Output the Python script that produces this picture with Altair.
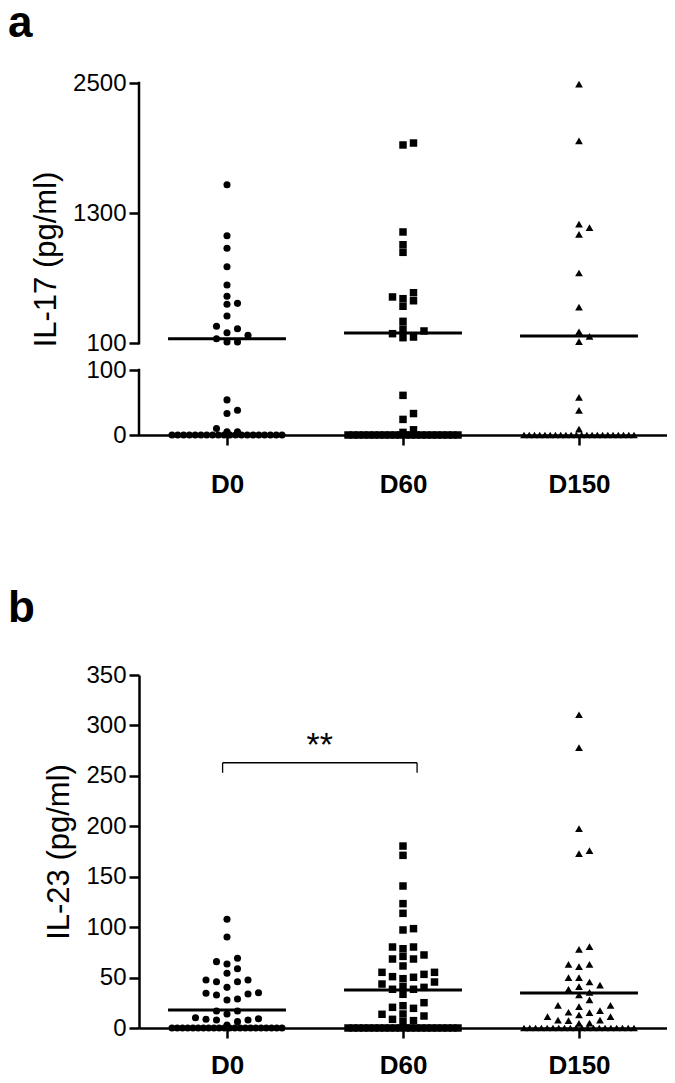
import json
import altair as alt
import numpy as np
import pandas as pd

# ---------------- data ----------------
groups = ["D0", "D60", "D150"]
group_shapes = ["circle", "square", "triangle-up"]

# Panel a : IL-17 (pg/ml), broken axis 0-100 | 100-2500
il17_d0 = [1561, 1090, 974, 804, 635, 531, 466, 457, 349, 254, 232, 195, 171,
           140, 109, 109, 54, 38, 33, 10, 5, 5]
il17_d60 = [1946, 1928, 1125, 1007, 937, 564, 525, 509, 490, 439, 300, 229,
            211, 186, 155, 149, 61, 33, 24, 8, 4]
il17_d150 = [2490, 1965, 1198, 1165, 1103, 746, 432, 204, 162, 112, 58, 38, 9]
il17_zero_counts = [20, 22, 22]
il17_centre_lines = [140, 192, 165]
il17_ticks = [0, 100, 100.001, 1300, 2500]
il17_break_domain = [0, 100, 100.001, 2500]
il17_seg_lo = [0, 100.001]
il17_seg_hi = [100, 2500]

# Panel b : IL-23 (pg/ml)
il23_d0 = [107.8, 90.2, 69.1, 63.4, 65.8, 54.2, 58.8, 47.6, 45.9, 40.3, 45.9,
           47.6, 33.7, 32.7, 27.8, 28.8, 34.4, 35.0, 16.9, 13.9, 16.9, 10.2,
           8.6, 7.9, 6.3, 7.9, 9.2, 3.0]
il23_d60 = [180.4, 171.2, 140.8, 123.3, 113.7, 98.5, 97.2, 80.3, 78.6, 80.3,
            71.0, 68.4, 72.4, 68.4, 61.5, 55.2, 53.2, 50.3, 45.6, 48.9, 50.9,
            55.2, 43.6, 40.3, 38.4, 33.4, 38.4, 41.0, 22.1, 25.1, 19.5, 20.5,
            13.9, 11.9, 13.6, 8.6, 6.3, 7.3]
il23_d150 = [310.6, 277.9, 197.6, 175.8, 172.8, 80.6, 78.0, 63.1, 60.8, 63.1,
             49.9, 49.9, 45.6, 41.0, 38.4, 35.4, 42.6, 32.7, 27.8, 22.5, 22.5,
             21.1, 17.2, 15.2, 11.2, 11.2, 12.9, 15.6, 7.9, 7.3, 4.6, 4.9, 7.9]
il23_zero_counts = [22, 22, 20]
il23_centre_lines = [17.8, 37.7, 34.7]
il23_ticks = [0, 50, 100, 150, 200, 250, 300, 350]

bracket_x = [-0.025, 1.08]
bracket_y = [253, 263]
sig_text = "**"
sig_x = [0.527]
sig_y = [270]

# ---------------- layout / style ----------------
FONT = "Liberation Sans"
W = 528
XDOM = [-0.5, 2.5]
UNIT_PX = W / (XDOM[1] - XDOM[0])
HA = 352
RANGE_A = [HA, HA - 65, HA - 92, 0]
HB = 353
BDOM = [0, 350]
HALF_LINE = 0.335
SLOT_PX = 10.5
THR_PX = 7.5
ROW_PX = 110
SIZES = {"circle": 50, "square": 56, "triangle-up": 60}


def swarm(values, to_px):
    vals = np.asarray(values, dtype=float)
    off = np.zeros(len(vals))
    order = [0]
    for k in range(1, 15):
        order += [k, -k]
    placed = []
    for i in np.argsort(vals, kind="stable"):
        if vals[i] == 0:
            continue
        y = to_px(vals[i])
        for s in order:
            if all(not (ps == s and abs(py - y) < THR_PX) for ps, py in placed):
                placed.append((s, y))
                off[i] = s * SLOT_PX
                break
    zi = np.where(vals == 0)[0]
    if len(zi) > 1:
        off[zi] = np.linspace(-ROW_PX / 2, ROW_PX / 2, len(zi))
    return off / UNIT_PX


def build(series, zero_counts, to_px):
    rows = []
    for gi, (g, vals, nz) in enumerate(zip(groups, series, zero_counts)):
        allv = list(vals) + [0.0] * nz
        offs = swarm(allv, to_px)
        for v, o in zip(allv, offs):
            rows.append({"group": g, "value": v, "x": gi + o})
    return pd.DataFrame(rows)


to_px_a = lambda v: float(np.interp(v, il17_break_domain, RANGE_A))
to_px_b = lambda v: HB - v * HB / (BDOM[1] - BDOM[0])

df_a = build([il17_d0, il17_d60, il17_d150], il17_zero_counts, to_px_a)
df_b = build([il23_d0, il23_d60, il23_d150], il23_zero_counts, to_px_b)

label_expr = json.dumps(groups) + "[datum.value]"
x_scale = alt.Scale(domain=XDOM, nice=False, zero=False)


def x_axis(pad):
    return alt.Axis(values=[0, 1, 2], labelExpr=label_expr, tickSize=10,
                    labelPadding=pad, labelFontSize=26, labelFontWeight="bold",
                    labelFlush=False, title=None, grid=False)


def panel(df, centre, y_scale, y_axis, xpad, extra=()):
    X = lambda f: alt.X(f, type="quantitative", scale=x_scale, axis=x_axis(xpad))
    Y = lambda f: alt.Y(f, type="quantitative", scale=y_scale, axis=y_axis)
    layers = []
    cdf = pd.DataFrame({"lo": [i - HALF_LINE for i in range(3)],
                        "hi": [i + HALF_LINE for i in range(3)],
                        "value": centre})
    layers.append(alt.Chart(cdf).mark_rule(color="black", strokeWidth=3).encode(
        x=X("lo"), x2="hi", y=Y("value")))
    for g, s in zip(groups, group_shapes):
        layers.append(alt.Chart(df[df.group == g]).mark_point(
            shape=s, size=SIZES[s], filled=True, color="black", opacity=1,
            strokeWidth=0).encode(x=X("x"), y=Y("value")))
    for mk in extra:
        layers.append(mk(X, Y))
    return alt.layer(*layers)


# ----- panel a -----
ya_scale = alt.Scale(domain=il17_break_domain, range=RANGE_A, zero=False, nice=False)
ya_axis = alt.Axis(values=il17_ticks, format="d", domain=False, tickSize=10,
                   labelPadding=3, labelFontSize=24, labelOverlap=False,
                   title="IL-17 (pg/ml)", titleFontSize=31, titleFontWeight="normal",
                   titlePadding=10, grid=False)
seg_df = pd.DataFrame({"lo": il17_seg_lo, "hi": il17_seg_hi})


def y_segments(X, Y):
    return alt.Chart(seg_df).mark_rule(color="black", strokeWidth=2.5,
                                       strokeCap="square").encode(
        x=alt.X(datum=XDOM[0], type="quantitative", scale=x_scale),
        y=Y("lo"), y2="hi")


chart_a = panel(df_a, il17_centre_lines, ya_scale, ya_axis, 26,
                extra=[y_segments]).properties(
    width=W, height=HA,
    title=alt.TitleParams("a", anchor="start", frame="group", fontSize=44,
                          fontWeight="bold", font=FONT, color="black",
                          dx=-131, offset=25))

# ----- panel b -----
yb_scale = alt.Scale(domain=BDOM, zero=False, nice=False)
yb_axis = alt.Axis(values=il23_ticks, tickSize=10, labelPadding=3, labelFontSize=24,
                   title="IL-23 (pg/ml)", titleFontSize=31, titleFontWeight="normal",
                   titlePadding=10, grid=False)
br_h = pd.DataFrame({"x": [bracket_x[0]], "x2": [bracket_x[1]], "y": [bracket_y[1]]})
br_v = pd.DataFrame({"x": bracket_x, "y": [bracket_y[0]] * 2, "y2": [bracket_y[1]] * 2})
sig_df = pd.DataFrame({"x": sig_x, "y": sig_y, "t": [sig_text]})


def bracket_h(X, Y):
    return alt.Chart(br_h).mark_rule(color="black", strokeWidth=1.3).encode(
        x=X("x"), x2="x2", y=Y("y"))


def bracket_v(X, Y):
    return alt.Chart(br_v).mark_rule(color="black", strokeWidth=1.3).encode(
        x=X("x"), y=Y("y"), y2="y2")


def sig(X, Y):
    return alt.Chart(sig_df).mark_text(fontSize=34, font=FONT, color="black",
                                       align="center", baseline="alphabetic").encode(
        x=X("x"), y=Y("y"), text="t:N")


chart_b = panel(df_b, il23_centre_lines, yb_scale, yb_axis, 14,
                extra=[bracket_h, bracket_v, sig]).properties(
    width=W, height=HB,
    title=alt.TitleParams("b", anchor="start", frame="group", fontSize=44,
                          fontWeight="bold", font=FONT, color="black",
                          dx=-131, offset=32))

chart = alt.vconcat(chart_a, chart_b, spacing=90).properties(
    padding={"left": 0, "top": -6, "right": 0, "bottom": 0}
).configure_view(stroke=None).configure_axis(
    labelFont=FONT, titleFont=FONT, labelColor="black", titleColor="black",
    domainColor="black", tickColor="black", domainWidth=2.5, tickWidth=2.5,
    labelFontWeight="normal"
)

chart.save("out.html", embed_options={"renderer": "svg", "actions": False})
